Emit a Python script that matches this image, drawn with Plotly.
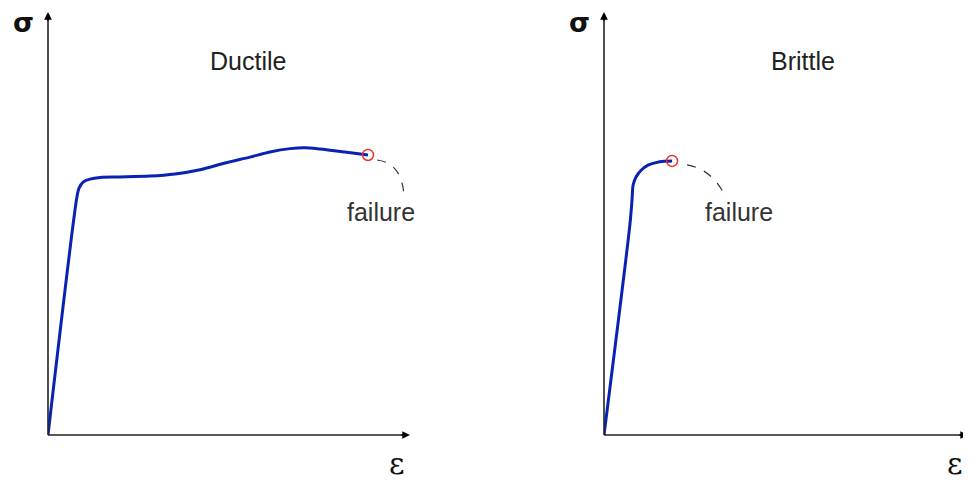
import plotly.graph_objects as go

# The page body has an 8px margin: work in page pixels and shift by OFF
OFF = 8
W, H = 971 - OFF, 480 - OFF

# Data (normalised strain / stress)
ductile_strain = [0.0, 0.080, 0.086, 0.097, 0.116, 0.144, 0.199, 0.282, 0.351, 0.420, 0.489,
                  0.558, 0.613, 0.669, 0.710, 0.751, 0.820, 0.884]
ductile_stress = [0.0, 0.563, 0.584, 0.598, 0.605, 0.609, 0.610, 0.612, 0.617, 0.627, 0.643,
                  0.657, 0.669, 0.677, 0.679, 0.676, 0.669, 0.662]
brittle_strain = [0.0, 0.071, 0.077, 0.080, 0.088, 0.102, 0.121, 0.143, 0.165, 0.187]
brittle_stress = [0.0, 0.496, 0.556, 0.591, 0.610, 0.626, 0.638, 0.644, 0.647, 0.648]
panel_titles = ["Ductile", "Brittle"]
failure_label = "failure"

BLUE = "#0a22b2"
RED = "#ee3322"
AX = "#222222"

fig = go.Figure()

# page-pixel geometry of the two panels
panels = [
    dict(x0=48, x1=410, y0=435, y1=12, xa="x", ya="y"),
    dict(x0=604, x1=968, y0=435, y1=12, xa="x2", ya="y2"),
]


def px(x):
    return (x - OFF) / W


def py(y):
    return 1 - (y - OFF) / H


def lay_axis(p):
    return (
        dict(domain=[px(p["x0"]), px(p["x1"])], range=[0, 1], visible=False, fixedrange=True),
        dict(domain=[py(p["y0"]), py(p["y1"])], range=[0, 1], visible=False, fixedrange=True),
    )


xa1, ya1 = lay_axis(panels[0])
xa2, ya2 = lay_axis(panels[1])
xa1["anchor"] = "y"; ya1["anchor"] = "x"
xa2["anchor"] = "y2"; ya2["anchor"] = "x2"

series = [(ductile_strain, ductile_stress), (brittle_strain, brittle_stress)]
for i, (p, (sx, sy)) in enumerate(zip(panels, series)):
    fig.add_trace(go.Scatter(x=sx, y=sy, mode="lines", xaxis=p["xa"], yaxis=p["ya"],
                             line=dict(color=BLUE, width=3, shape="spline", smoothing=0.8),
                             showlegend=False, hoverinfo="skip"))
    fig.add_trace(go.Scatter(x=[sx[-1]], y=[sy[-1]], mode="markers", xaxis=p["xa"], yaxis=p["ya"],
                             marker=dict(symbol="circle-open", size=11, color=RED, line=dict(width=1.5)),
                             showlegend=False, hoverinfo="skip"))

shapes = []
annotations = []
for i, p in enumerate(panels):
    # axes lines
    shapes.append(dict(type="line", xref="paper", yref="paper", x0=px(p["x0"]), y0=py(p["y0"]),
                       x1=px(p["x0"]), y1=py(p["y1"] + 2), line=dict(color=AX, width=1.6)))
    shapes.append(dict(type="line", xref="paper", yref="paper", x0=px(p["x0"]), y0=py(p["y0"]),
                       x1=px(p["x1"] - 2), y1=py(p["y0"]), line=dict(color=AX, width=1.6)))
    # small arrow heads
    annotations.append(dict(xref="paper", yref="paper", x=px(p["x0"]), y=py(p["y1"]),
                            ax=0, ay=10, showarrow=True, arrowhead=2, arrowsize=0.7,
                            arrowwidth=2.2, arrowcolor="#000", text=""))
    annotations.append(dict(xref="paper", yref="paper", x=px(p["x1"]), y=py(p["y0"]),
                            ax=-10, ay=0, showarrow=True, arrowhead=2, arrowsize=0.7,
                            arrowwidth=2.2, arrowcolor="#000", text=""))
    # sigma / epsilon labels
    annotations.append(dict(xref="paper", yref="paper", x=px(p["x0"] - 25), y=py(22),
                            text="<b>σ</b>", showarrow=False,
                            font=dict(family="DejaVu Sans", size=27, color="#111"),
                            xanchor="center", yanchor="middle"))
    annotations.append(dict(xref="paper", yref="paper", x=px(p["x1"] - 13), y=py(463),
                            text="ε", showarrow=False,
                            font=dict(family="DejaVu Serif", size=30, color="#111"),
                            xanchor="center", yanchor="middle"))
    # titles
    annotations.append(dict(xref="paper", yref="paper",
                            x=px(248 if i == 0 else 803), y=py(61),
                            text=panel_titles[i], showarrow=False,
                            font=dict(family="Liberation Sans", size=25, color="#222"),
                            xanchor="center", yanchor="middle"))

# failure leader lines & labels (relative to failure points)
for i, p in enumerate(panels):
    sx, sy = series[i]
    fx = p["x0"] + sx[-1] * (p["x1"] - p["x0"])
    fy = p["y0"] - sy[-1] * (p["y0"] - p["y1"])
    if i == 0:
        a = (fx + 9, fy + 5); c = (fx + 34, fy + 8); b = (fx + 36, fy + 41)
        tx, ty = fx + 13, fy + 57
    else:
        a = (fx + 15, fy + 4); c = (fx + 38, fy + 8); b = (fx + 51, fy + 31)
        tx, ty = fx + 67, fy + 51
    path = "M {} {} Q {} {} {} {}".format(px(a[0]), py(a[1]), px(c[0]), py(c[1]), px(b[0]), py(b[1]))
    shapes.append(dict(type="path", xref="paper", yref="paper", path=path,
                       line=dict(color="#333", width=1.2, dash="dash")))
    annotations.append(dict(xref="paper", yref="paper", x=px(tx), y=py(ty), text=failure_label,
                            showarrow=False, font=dict(family="Liberation Sans", size=25, color="#333"),
                            xanchor="center", yanchor="middle"))

fig.update_layout(width=W, height=H, margin=dict(l=0, r=0, t=0, b=0),
                  paper_bgcolor="white", plot_bgcolor="white",
                  xaxis=xa1, yaxis=ya1, xaxis2=xa2, yaxis2=ya2,
                  shapes=shapes, annotations=annotations, showlegend=False)

fig.write_html("out.html")
